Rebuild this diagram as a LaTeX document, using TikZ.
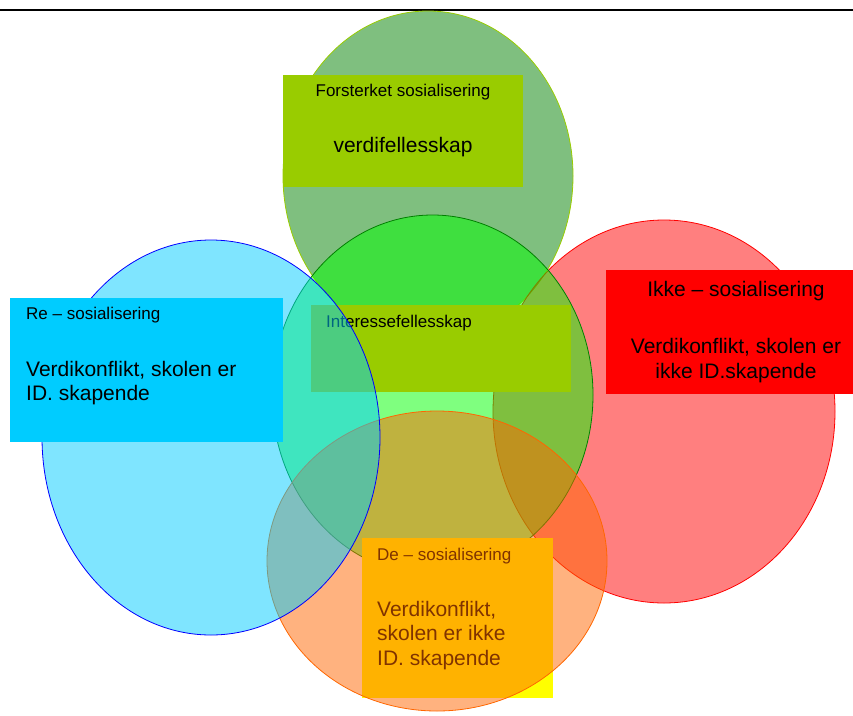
\documentclass[tikz,border=0pt]{standalone}
\usepackage{fontspec}
\setmainfont{Liberation Sans}
\usepackage{xcolor}
\definecolor{cDeep}{HTML}{008000}
\definecolor{cLime}{HTML}{99CC00}
\definecolor{cLeaf}{HTML}{00FF00}
\definecolor{cSky}{HTML}{00CCFF}
\definecolor{cRed}{HTML}{FF0000}
\definecolor{cOrange}{HTML}{FF6600}
\definecolor{cYellow}{HTML}{FFFF00}
\definecolor{cInk}{HTML}{0000FF}
\usepackage{tikz}
\usetikzlibrary{positioning,shapes.geometric}
\tikzset{
  node-ell/.style={ellipse,inner sep=0pt,line width=0.8pt,fill opacity=0.5},
  node-sheet/.style={rectangle,inner sep=0pt,draw=none},
  lbl-small/.style={inner sep=0pt,font=\fontsize{17}{20}\selectfont},
  lbl-big/.style={inner sep=0pt,font=\fontsize{21}{24.5}\selectfont},
  rule-line/.style={line width=1.6pt,draw=black},
}
\begin{document}
\begin{tikzpicture}[x=1pt,y=-1pt]
  \useasboundingbox (0,0) rectangle (853,715);
  \coordinate (ruleL) at (0,10);
  \coordinate (ruleR) at (853,10);
  \draw[rule-line] (ruleL) -- (ruleR);
  % top: forsterket
  \node[node-ell,draw=cLime,fill=cDeep,minimum width=290pt,minimum height=330pt]
    (ellTop) at (428,176) {};
  \node[node-sheet,fill=cLime,minimum width=240pt,minimum height=112pt]
    (boxTop) at (403,131) {};
  \node[lbl-small] (txtTopA) at (403,92) {Forsterket sosialisering};
  \node[lbl-big] (txtTopB) at (403,147) {verdifellesskap};
  % right: ikke
  \node[node-ell,draw=cRed,fill=cRed,minimum width=342pt,minimum height=383pt]
    (ellIkke) at (664,411.5) {};
  \node[node-sheet,fill=cRed,minimum width=250pt,minimum height=124pt]
    (boxIkke) at (731,332) {};
  \node[lbl-big] (txtIkkeA) at (736,291) {Ikke -- sosialisering};
  \node[lbl-big,align=center] (txtIkkeB) at (736,360.5)
    {Verdikonflikt, skolen er\\ikke ID.skapende};
  % middle: interesse
  \node[node-ell,draw=cDeep,fill=cLeaf,minimum width=321pt,minimum height=360pt]
    (ellMid) at (432.5,395) {};
  \node[node-sheet,fill=cLime,minimum width=260pt,minimum height=87pt]
    (boxMid) at (441,348.5) {};
  \node[lbl-small,anchor=west] (txtMid) at (326,323) {Interessefellesskap};
  % bottom: de
  \node[node-sheet,fill=cYellow,minimum width=191pt,minimum height=160pt]
    (boxDe) at (457.5,618) {};
  \node[lbl-small,anchor=west] (txtDeA) at (377,556) {De -- sosialisering};
  \node[lbl-big,align=left,anchor=west] (txtDeB) at (377,635.5)
    {Verdikonflikt,\\skolen er ikke\\ID. skapende};
  \node[node-ell,draw=cOrange,fill=cOrange,minimum width=340pt,minimum height=300pt]
    (ellDe) at (437,561) {};
  % left: re
  \node[node-ell,draw=cInk,fill=cSky,minimum width=338pt,minimum height=395pt]
    (ellRe) at (211,437.5) {};
  \node[node-sheet,fill=cSky,minimum width=273pt,minimum height=144pt]
    (boxRe) at (146.5,370) {};
  \node[lbl-small,anchor=west] (txtReA) at (26,315) {Re -- sosialisering};
  \node[lbl-big,align=left,anchor=west] (txtReB) at (26,383)
    {Verdikonflikt, skolen er\\ID. skapende};
\end{tikzpicture}
\end{document}
